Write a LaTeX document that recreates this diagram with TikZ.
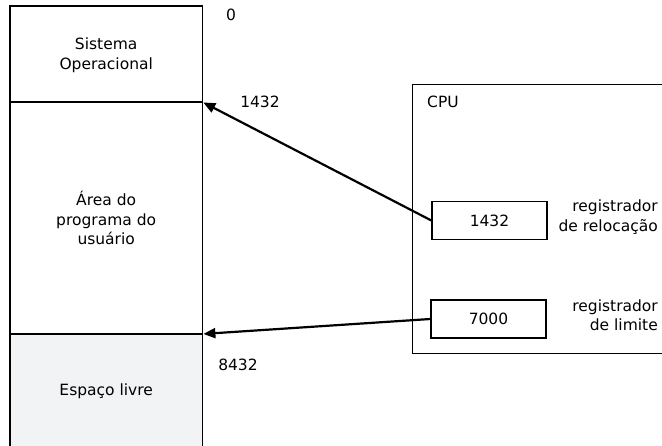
\documentclass[tikz,border=0pt]{standalone}
\usepackage{fontspec}
\setmainfont{DejaVu Sans}
\usetikzlibrary{arrows.meta}
\definecolor{freegray}{HTML}{F2F3F5}
\begin{document}
\begin{tikzpicture}[x=1pt,y=-1pt,
  txt/.style={font=\fontsize{15.5}{19.5}\selectfont, inner sep=0pt, align=center},
  area/.style={inner sep=0pt, anchor=north west, minimum width=192pt},
  regbox/.style={draw, line width=1.3pt, minimum width=115pt, minimum height=38pt, inner sep=0pt, font=\fontsize{15.5}{19.5}\selectfont},
  divider/.style={line width=2.3pt},
  ptr/.style={line width=2.2pt, -{Triangle[length=12pt,width=10pt]}, shorten >=1pt}]
\useasboundingbox (0,0) rectangle (662,446);
% memory areas
\node[area, minimum height=96pt] (os) at (10,6) {};
\node[area, minimum height=232pt] (prog) at (10,102) {};
\node[area, minimum height=112pt, fill=freegray] (free) at (10,334) {};
\draw[line width=1.3pt] (free.south west) -- (os.north west) -- (os.north east) -- (free.south east);
\draw[divider] (prog.north west) -- (prog.north east);
\draw[divider] (free.north west) -- (free.north east);
\node[txt] (ostxt) at ([yshift=-1pt]os.center) {Sistema\\Operacional};
\node[txt] (progtxt) at (prog.center) {Área do\\programa do\\usuário};
\node[txt] (freetxt) at ([yshift=-1pt]free.center) {Espaço livre};
% addresses
\node[txt] (a0) at (231,15) {0};
\node[txt] (a1432) at (260,102) {1432};
\node[txt] (a8432) at (238,365) {8432};
% CPU
\node[draw, line width=1.3pt, anchor=north west, minimum width=260pt, minimum height=269pt, inner sep=0pt] (cpu) at (412,84) {};
\node[txt, anchor=north west] (cputxt) at (427,96) {CPU};
\node[regbox] (reg1) at (489.5,220.5) {1432};
\node[regbox] (reg2) at (488.5,319) {7000};
\node[txt, align=right, anchor=east] (lab1) at (658,217) {registrador\\de relocação};
\node[txt, align=right, anchor=east] (lab2) at (658,315) {registrador\\de limite};
% arrows
\draw[ptr] (reg1.west) -- (prog.north east);
\draw[ptr] (reg2.west) -- (free.north east);
\end{tikzpicture}
\end{document}
